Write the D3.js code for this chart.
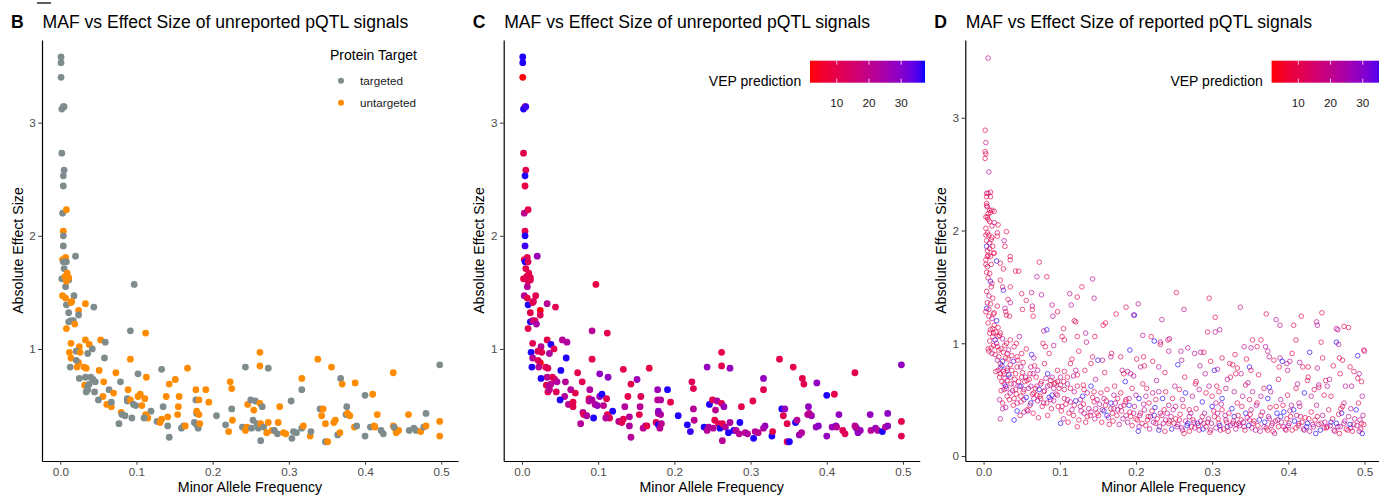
<!DOCTYPE html>
<html><head><meta charset="utf-8">
<script src="https://cdn.jsdelivr.net/npm/d3@7"></script>
<style>body{margin:0;background:#fff}svg{display:block}</style>
</head><body>
<svg id="chart" width="1379" height="498"></svg>
<script>
// ---------- data ----------
const xTicks = [0, 0.1, 0.2, 0.3, 0.4, 0.5];
const yTicksUnreported = [1, 2, 3];
const yTicksReported = [0, 1, 2, 3];
const targetCategories = ["targeted", "untargeted"];
const targetColours = ["#7F8C8D", "#FF8C00"];
const vepTicks = [10, 20, 30];
const vepLimits = [1.7, 37.4];

// unreported signals (panels B and C)
const bcMaf = [
0.001,0.001,0.001,0.004,0.002,0.005,0.002,0.005,0.004,0.004,
0.003,0.008,0.004,0.004,0.004,0.020,0.003,0.007,0.004,0.008,
0.005,0.002,0.006,0.011,0.007,0.011,0.008,0.009,0.003,0.007,
0.018,0.008,0.014,0.015,0.033,0.044,0.024,0.011,0.024,0.011,
0.014,0.017,0.019,0.008,0.097,0.092,0.112,0.014,0.033,0.038,
0.053,0.059,0.025,0.042,0.021,0.026,0.012,0.036,0.014,0.058,
0.092,0.024,0.021,0.013,0.022,0.031,0.034,0.051,0.073,0.102,
0.133,0.167,0.025,0.033,0.040,0.043,0.046,0.113,0.151,0.079,
0.057,0.032,0.036,0.038,0.143,0.034,0.036,0.045,0.064,0.070,
0.089,0.178,0.191,0.223,0.225,0.056,0.050,0.088,0.088,0.092,
0.102,0.105,0.111,0.139,0.156,0.178,0.182,0.195,0.061,0.067,
0.067,0.096,0.099,0.107,0.119,0.135,0.155,0.080,0.081,0.085,
0.077,0.094,0.112,0.115,0.110,0.127,0.133,0.131,0.141,0.154,
0.141,0.143,0.159,0.162,0.164,0.176,0.179,0.181,0.183,0.179,
0.182,0.179,0.205,0.217,0.221,0.225,0.226,0.243,0.239,0.243,
0.245,0.246,0.250,0.254,0.253,0.258,0.260,0.251,0.256,0.262,
0.265,0.262,0.262,0.273,0.263,0.263,0.267,0.271,0.273,0.278,
0.281,0.285,0.286,0.288,0.293,0.296,0.303,0.304,0.306,0.310,
0.317,0.319,0.317,0.317,0.328,0.329,0.338,0.341,0.345,0.343,
0.348,0.348,0.351,0.356,0.359,0.361,0.364,0.367,0.368,0.370,
0.375,0.376,0.380,0.377,0.387,0.386,0.389,0.400,0.400,0.407,
0.412,0.413,0.410,0.416,0.421,0.424,0.437,0.437,0.439,0.441,
0.444,0.438,0.457,0.458,0.464,0.467,0.473,0.477,0.480,0.480,
0.498,0.498,0.498];
const bcEffect = [
3.58,3.53,3.40,3.14,3.12,3.14,2.73,2.58,2.53,2.44,
2.20,2.23,2.04,2.00,1.91,1.82,1.79,1.81,1.77,1.77,
1.71,1.62,1.64,1.61,1.55,1.63,1.60,1.67,1.47,1.45,
1.47,1.39,1.41,1.42,1.40,1.37,1.34,1.32,1.30,1.24,
1.25,1.25,1.22,1.18,1.57,1.16,1.14,1.05,1.08,1.04,
1.08,1.06,1.02,1.00,0.98,0.97,0.97,0.96,0.92,0.92,
0.91,0.88,0.90,0.84,0.84,0.84,0.83,0.81,0.79,0.78,
0.82,0.83,0.74,0.75,0.75,0.73,0.71,0.75,0.73,0.71,
0.71,0.68,0.67,0.69,0.69,0.62,0.64,0.62,0.64,0.61,
0.64,0.64,0.64,0.71,0.65,0.58,0.55,0.56,0.54,0.55,
0.58,0.60,0.56,0.58,0.58,0.55,0.55,0.53,0.51,0.49,
0.53,0.51,0.50,0.50,0.45,0.49,0.49,0.44,0.42,0.41,
0.34,0.39,0.42,0.39,0.39,0.36,0.38,0.35,0.40,0.42,
0.32,0.22,0.30,0.32,0.32,0.35,0.33,0.30,0.34,0.43,
0.42,0.45,0.41,0.33,0.27,0.47,0.37,0.84,0.31,0.28,
0.31,0.51,0.55,0.46,0.37,0.34,0.30,0.30,0.54,0.52,
0.49,0.97,0.85,0.83,0.19,0.34,0.31,0.26,0.35,0.28,
0.28,0.25,0.35,0.49,0.26,0.25,0.54,0.21,0.27,0.26,
0.30,0.32,0.64,0.74,0.23,0.27,0.91,0.47,0.47,0.41,
0.34,0.18,0.18,0.84,0.35,0.37,0.24,0.26,0.74,0.69,
0.42,0.49,0.41,0.43,0.70,0.31,0.32,0.59,0.23,0.31,
0.32,0.31,0.60,0.42,0.28,0.25,0.79,0.32,0.30,0.26,
0.28,0.31,0.42,0.28,0.30,0.28,0.27,0.31,0.32,0.43,
0.86,0.36,0.23];
// 0 = targeted, 1 = untargeted
const bcTarget = [
0,0,0,0,0,0,0,0,0,0, 0,1,1,0,0,0,1,1,0,0, 0,0,1,0,0,1,1,1,1,1,
0,0,1,1,1,0,1,0,0,0, 0,0,1,1,0,0,1,1,1,1, 1,0,1,0,0,1,1,0,1,0,
1,1,0,0,1,1,1,1,1,0, 0,1,0,0,0,0,0,1,1,0, 1,1,0,0,1,0,0,0,0,1,
1,1,1,1,1,1,0,0,0,1, 1,1,1,1,1,0,1,1,1,1, 0,0,0,1,0,0,1,1,0,0,
0,0,1,1,0,0,1,1,1,1, 0,0,0,0,1,0,0,0,1,0, 1,1,0,0,1,0,1,0,0,1,
1,1,0,1,0,0,0,0,0,1, 0,1,1,0,0,1,0,1,1,1, 0,0,1,1,1,1,0,0,0,0,
0,1,0,1,1,0,1,0,1,1, 1,0,1,1,1,1,0,1,0,1, 0,0,1,1,1,1,0,0,0,0,
1,1,1,1,0,0,1,1,1,1, 1,0,1,0,0,0,1,0,1,0, 0,1,1];
const bcVep = [
37,37,2,9,37,36,10,11,37,9, 21,11,10,37,36,27,8,10,37,12,
10,9,11,13,22,10,12,10,23,9, 11,37,10,12,22,11,3,10,12,37,
21,13,24,10,9,22,10,11,10,37, 22,23,21,11,12,10,37,23,22,37,
10,3,12,37,21,10,12,37,10,28, 10,9,37,21,11,13,23,28,27,11,
22,10,27,21,10,11,20,12,22,10, 23,27,37,12,11,22,37,10,21,24,
28,37,11,10,12,22,23,10,21,11, 10,22,27,21,37,23,22,21,11,23,
22,37,10,12,22,21,10,11,22,10, 23,22,21,23,10,11,37,22,21,23,
22,28,37,37,36,22,21,28,37,22, 23,37,11,21,10,12,37,22,23,11,
27,10,11,28,22,10,21,37,23,37, 22,21,37,10,22,23,11,37,22,21,
23,27,11,28,37,10,10,37,28,11, 10,12,37,10,37,22,27,23,10,11,
22,28,27,21,28,27,29,37,28,27, 29,22,10,28,11,12,10,22,37,28,
27,21,28,22,27,23,37,21,28,29, 28,10,11];

// reported signals (panel D), part 1
const dMaf = [
0.006,0.002,0.003,0.002,0.003,0.002,0.007,0.004,0.006,0.009,
0.009,0.004,0.004,0.005,0.008,0.006,0.011,0.003,0.014,0.009,
0.005,0.011,0.014,0.019,0.030,0.027,0.028,0.018,0.018,0.005,
0.003,0.011,0.004,0.008,0.004,0.008,0.005,0.003,0.009,0.013,
0.014,0.017,0.022,0.026,0.035,0.035,0.004,0.010,0.005,0.042,
0.046,0.073,0.070,0.083,0.143,0.009,0.011,0.022,0.025,0.026,
0.035,0.050,0.056,0.063,0.076,0.113,0.123,0.129,0.253,0.296,
0.145,0.032,0.035,0.018,0.028,0.004,0.007,0.014,0.115,0.090,
0.064,0.064,0.065,0.051,0.029,0.030,0.034,0.187,0.203,0.337,
0.444,0.371,0.384,0.389,0.417,0.437,0.438,0.407,0.234,0.198,
0.197,0.083,0.079,0.119,0.121,0.091,0.097,0.105,0.134,0.146,
0.174,0.465,0.463,0.473,0.479,0.304,0.294,0.304,0.310,0.263,
0.209,0.220,0.224,0.244,0.242,0.232,0.232,0.160,0.157,0.135,
0.123,0.125,0.103,0.106,0.092,0.047,0.043,0.030,0.035,0.040,
0.012,0.013,0.022,0.019,0.015,0.010,0.011,0.018,0.020,0.031,
0.007,0.008,0.007,0.033,0.025,0.029,0.032,0.039,0.037,0.045,
0.056,0.050,0.044,0.063,0.066,0.078,0.081,0.086,0.080,0.049,
0.050,0.062,0.065,0.061,0.031,0.035,0.022,0.027,0.019,0.016,
0.084,0.090,0.097,0.101,0.106,0.110,0.121,0.123,0.133,0.141,
0.143,0.114,0.116,0.150,0.156,0.168,0.180,0.182,0.184,0.193,
0.189,0.192,0.201,0.210,0.206,0.211,0.230,0.243,0.259,0.255,
0.260,0.268,0.277,0.285,0.289,0.303,0.307,0.298,0.313,0.323,
0.327,0.330,0.342,0.351,0.353,0.359,0.364,0.349,0.351,0.331,
0.338,0.370,0.375,0.373,0.381,0.388,0.389,0.392,0.398,0.405,
0.410,0.415,0.419,0.426,0.428,0.438,0.445,0.449,0.443,0.463,
0.466,0.467,0.471,0.475,0.481,0.486,0.491,0.491,0.493,0.499,
0.500,0.497,
0.027,0.029,0.031,0.035,0.040,0.042,0.046,0.049,0.053,0.057,
0.062,0.066,0.070,0.073,0.075,0.079,0.084,0.088,0.090,0.093,
0.097,0.099,0.101,0.103,0.106,0.110,0.112,0.114,0.119,0.123,
0.127,0.130,0.132,0.136,0.141,0.145,0.147,0.151,0.156,0.160,
0.162,0.165,0.169,0.171,0.176,0.180,0.184,0.187,0.191,0.193,
0.197,0.202,0.204,0.206,0.211,0.215,0.219,0.224,0.226,0.230,
0.232,0.237,0.239,0.243,0.246,0.250,0.254,0.257,0.261,0.263,
0.268,0.270,0.273,0.276,0.281,0.283,0.287,0.289,0.294,0.298,
0.300,0.303,0.307,0.309,0.311,0.313,0.318,0.320,0.322,0.327,
0.329,0.332,0.335,0.338,0.342,0.344,0.349,0.351,0.354,0.357,
0.362,0.364,0.368,0.373,0.375,0.379,0.382,0.386,0.390,0.394,
0.397,0.401,0.403,0.407,0.410,0.414,0.416,0.421,0.424,0.427,
0.432,0.436,0.438,0.443,0.447,0.451,0.456,0.460,0.465,0.467,
0.470,0.473,0.478,0.482,0.486,0.489,0.493,0.496,0.497,0.494,
0.482,0.473,0.469,0.456,0.451,0.447,0.440,0.434,0.430,0.425,
0.421,0.414,0.410,0.404,0.399,0.394,0.390,0.384,0.377,0.373,
0.368,0.364,0.359,0.353,0.349,0.344,0.340,0.333,0.329,0.324,
0.318,0.313,0.309,0.305,0.300,0.296,0.292,0.287,0.283,0.278,
0.274,0.270,0.265,0.261,0.257,0.252,0.248,0.243,0.239,0.235,
0.230,0.226,0.222,0.217,0.213,0.209,0.204,0.200,0.195,0.191,
0.187,0.180,0.176,0.171,0.167,0.162,0.158,0.154,0.149,0.145,
0.141,0.136,0.132,0.127,0.123,0.119,0.114,0.110,0.106,0.101,
0.097,0.092,0.088,0.084,0.079,0.075,0.070,0.066,0.062,0.057,
0.053,0.049,0.044,0.040,0.035,0.031,0.027,0.022,0.025,0.022,
0.040,0.053];
const dEffect = [
3.53,2.89,2.78,2.70,2.68,2.64,2.52,2.33,2.33,2.34,
2.30,2.30,2.24,2.21,2.18,2.15,2.18,2.12,2.17,2.16,
2.12,2.04,2.07,2.05,1.99,1.91,1.86,1.98,1.95,1.98,
1.96,1.94,1.91,1.89,1.86,1.84,1.77,1.74,1.77,1.80,
1.80,1.73,1.71,1.66,1.77,1.74,1.63,1.70,1.68,1.64,
1.64,1.72,1.59,1.59,1.57,1.55,1.53,1.56,1.50,1.47,
1.50,1.44,1.38,1.45,1.43,1.44,1.41,1.50,1.45,1.40,
1.40,1.39,1.36,1.33,1.31,1.31,1.30,1.27,1.34,1.34,
1.33,1.30,1.24,1.30,1.28,1.25,1.24,1.32,1.35,1.32,
1.27,1.26,1.21,1.16,1.24,1.19,1.16,1.16,1.21,1.25,
1.25,1.12,1.11,1.20,1.19,1.24,1.28,1.13,1.09,1.06,
1.26,1.12,1.13,1.15,1.14,1.23,1.10,1.10,1.12,1.30,
1.07,1.06,1.02,1.04,1.03,0.99,1.01,1.18,1.16,1.01,
1.06,0.93,1.06,1.03,0.98,1.06,1.00,1.00,1.03,0.97,
1.13,1.09,1.09,1.06,1.03,0.96,0.91,0.97,0.94,0.91,
1.24,1.09,0.93,0.94,0.84,0.87,0.86,0.84,0.89,0.85,
0.95,0.91,0.79,0.90,0.87,1.00,0.97,0.91,0.82,0.79,
0.70,0.79,0.73,0.73,0.76,0.81,0.78,0.73,0.76,0.75,
0.73,0.70,0.76,0.70,0.75,0.70,0.76,0.72,0.76,0.82,
0.88,0.82,0.86,0.85,0.85,0.91,0.88,0.76,0.73,0.73,
0.75,0.94,0.86,0.88,0.79,0.80,0.79,0.93,0.93,0.81,
0.85,0.96,0.91,0.92,0.92,0.76,0.77,0.84,0.87,0.82,
0.81,0.90,0.97,0.96,1.03,0.97,1.03,0.79,0.76,0.73,
0.73,0.97,0.88,0.93,0.85,0.79,0.87,0.84,0.82,0.91,
1.03,0.83,0.79,0.79,0.92,0.78,0.87,0.67,1.01,1.01,
0.99,0.87,0.85,0.62,0.79,0.75,0.69,0.89,0.73,0.94,
0.93,0.53,
0.64,0.62,0.67,0.70,0.64,0.59,0.66,0.62,0.59,0.67,
0.62,0.56,0.62,0.59,0.51,0.47,0.36,0.50,0.54,0.64,
0.54,0.60,0.29,0.44,0.51,0.50,0.38,0.48,0.45,0.26,
0.44,0.53,0.38,0.35,0.39,0.48,0.42,0.36,0.41,0.45,
0.36,0.28,0.38,0.42,0.41,0.56,0.45,0.36,0.45,0.35,
0.38,0.32,0.26,0.38,0.41,0.32,0.35,0.36,0.29,0.23,
0.38,0.41,0.32,0.29,0.35,0.29,0.26,0.32,0.23,0.20,
0.29,0.35,0.26,0.30,0.29,0.23,0.35,0.29,0.30,0.23,
0.44,0.35,0.38,0.29,0.23,0.41,0.32,0.26,0.38,0.29,
0.35,0.28,0.29,0.32,0.26,0.38,0.32,0.41,0.29,0.23,
0.32,0.36,0.26,0.23,0.33,0.29,0.20,0.32,0.35,0.26,
0.23,0.29,0.35,0.41,0.25,0.29,0.35,0.23,0.26,0.33,
0.28,0.20,0.35,0.29,0.25,0.26,0.30,0.23,0.26,0.20,
0.38,0.29,0.23,0.25,0.28,0.41,0.22,0.29,0.20,0.32,
0.42,0.47,0.42,0.53,0.62,0.54,0.63,0.59,0.53,0.67,
0.56,0.47,0.60,0.45,0.54,0.39,0.50,0.44,0.57,0.51,
0.60,0.53,0.47,0.57,0.50,0.63,0.53,0.47,0.57,0.70,
0.60,0.51,0.57,0.47,0.53,0.62,0.56,0.48,0.59,0.64,
0.53,0.41,0.56,0.50,0.59,0.44,0.51,0.45,0.57,0.51,
0.57,0.50,0.56,0.47,0.53,0.64,0.51,0.54,0.60,0.51,
0.50,0.44,0.51,0.54,0.47,0.59,0.51,0.56,0.50,0.57,
0.62,0.56,0.59,0.50,0.62,0.57,0.60,0.64,0.59,0.63,
0.66,0.60,0.67,0.62,0.57,0.64,0.54,0.51,0.47,0.41,
0.50,0.53,0.47,0.51,0.56,0.53,0.59,0.73,0.42,0.33,
0.32,0.39];
const dVep = [
21,10,20,9,11,10,22,10,21,9, 11,10,12,20,10,9,11,10,12,10,
11,10,20,9,11,22,10,12,10,9, 10,11,10,21,36,10,11,9,10,12,
10,37,10,11,10,12,10,9,11,10, 12,10,22,11,21,37,10,11,10,36,
12,10,11,20,22,21,10,12,10,11, 22,10,20,11,21,37,10,12,22,20,
21,10,11,10,12,10,11,10,22,21, 10,11,22,20,10,21,23,10,22,37,
24,37,21,10,11,22,10,12,21,10, 11,22,20,10,12,10,11,21,22,20,
21,10,37,22,11,10,21,10,12,20, 10,11,10,12,21,22,10,11,10,12,
10,11,10,9,37,10,20,11,10,12, 10,11,10,21,37,10,11,36,10,12,
10,11,10,37,22,10,11,10,12,21, 10,20,22,10,11,10,21,10,12,10,
37,22,10,21,11,10,22,10,11,10, 12,10,11,37,22,10,11,21,10,22,
20,37,10,11,21,10,22,21,20,37, 22,21,22,20,10,37,22,10,11,10,
12,10,21,22,10,11,10,37,10,11, 21,22,20,21,10,11,22,37,21,10,
11,22,10,11,37,21,10,11,10,37, 22,10,11,21,10,11,10,37,22,10,
21,22,
21,37,10,11,22,10,12,37,21,10, 22,11,20,37,10,21,10,22,37,11,
20,10,37,21,10,22,11,20,10,12, 21,37,22,10,21,11,20,10,22,10,
37,11,10,21,22,10,12,20,37,10, 21,11,22,10,21,10,20,37,11,37,
22,10,21,12,20,10,22,11,21,10, 37,22,10,20,37,21,11,22,10,20,
37,12,21,10,22,11,20,37,10,21, 37,11,22,10,20,37,12,21,10,22,
37,11,21,10,20,12,22,10,37,21, 11,22,10,37,10,20,12,21,37,10,
22,37,11,21,10,20,37,12,22,10, 37,21,10,22,11,37,20,10,37,21,
22,20,10,11,21,10,22,12,20,10, 37,21,11,22,10,37,20,10,21,37,
12,22,10,20,11,10,21,10,22,11, 20,37,10,21,12,22,10,37,20,11,
21,10,37,22,10,20,12,21,10,37, 22,11,20,10,21,10,37,22,11,20,
10,21,12,22,37,10,20,11,21,10, 37,22,10,20,12,21,10,22,11,20,
10,21,10,22,12,20,10,21,37,10, 22,11,20,10,21,10,22,11,20,21,
37,21];

// reported signals (panel D), part 2: low-MAF column, 0.02-0.1 cluster, dense band, mid band
const dMafMore = [
0.004,0.006,0.008,0.003,0.007,0.010,0.005,0.012,0.006,0.003,
0.008,0.006,0.010,0.004,0.007,0.012,0.005,0.009,0.003,0.011,
0.006,0.014,0.009,0.016,0.012,0.008,0.017,0.013,0.006,0.015,
0.020,0.018,0.022,0.024,0.017,0.013,0.019,0.021,0.025,0.028,
0.023,0.026,
0.021,0.024,0.028,0.030,0.033,0.036,0.038,0.041,0.043,0.047,
0.049,0.052,0.054,0.056,0.059,0.061,0.064,0.068,0.071,0.074,
0.077,0.080,0.083,0.086,0.089,0.092,0.095,0.098,
0.021,0.023,0.025,0.029,0.034,0.039,0.044,0.048,0.058,0.065,0.072,
0.026,0.031,0.037,0.042,0.051,0.055,0.060,0.069,0.076,0.082,0.087,0.094,
0.067,0.071,0.044,0.052,
0.102,0.105,0.108,0.111,0.116,0.118,0.121,0.125,0.128,0.131,
0.134,0.138,0.140,0.143,0.146,0.149,0.152,0.155,0.158,0.161,
0.164,0.167,0.170,0.173,0.175,0.178,0.181,0.183,0.186,0.189,
0.192,0.195,0.198,0.200,0.203,0.205,0.208,0.210,0.213,0.216,
0.218,0.221,0.223,0.225,0.228,0.231,0.234,0.236,0.238,0.241,
0.244,0.247,0.249,0.252,0.255,0.258,0.260,0.262,0.265,0.267,
0.270,0.272,0.275,0.277,0.279,0.282,0.285,0.288,0.290,0.292,
0.295,0.297,0.299,0.302,0.305,0.308,0.310,0.312,0.315,0.317,
0.319,0.321,0.324,0.326,0.328,0.331,0.334,0.336,0.339,0.341,
0.343,0.346,0.348,0.350,0.352,0.355,0.358,0.360,0.363,0.366,
0.369,0.371,0.374,0.376,0.378,0.380,0.383,0.385,0.387,0.391,
0.393,0.396,0.398,0.400,0.402,0.405,0.408,0.411,0.413,0.415,
0.418,0.420,0.422,0.425,0.428,0.430,0.433,0.435,0.437,0.440,
0.442,0.445,0.448,0.450,0.453,0.455,0.458,0.461,0.463,0.466,
0.468,0.471,0.474,0.476,0.479,0.481,0.484,0.487,0.490,0.492,
0.495,0.498,0.499,
0.105,0.118,0.131,0.147,0.159,0.172,0.186,0.197,0.214,0.227,
0.238,0.251,0.264,0.279,0.291,0.306,0.320,0.333,0.347,0.361,
0.375,0.387,0.399,0.412,0.426,0.440,0.454,0.468,0.483,0.496,
0.167,0.222,0.284,0.345,0.402,0.459];
const dEffectMore = [
2.22,2.10,2.08,2.02,1.96,1.92,1.82,1.86,1.78,1.70,
1.62,1.58,1.50,1.46,1.42,1.40,1.36,1.35,1.28,1.22,
1.18,1.16,1.12,1.10,1.06,1.02,1.00,0.98,0.95,0.90,
0.88,0.85,0.82,0.80,1.20,1.26,1.14,1.07,1.04,0.98,
0.95,0.92,
0.70,0.66,0.69,0.60,0.72,0.64,0.58,0.68,0.55,0.62,
0.48,0.57,0.66,0.52,0.60,0.45,0.55,0.60,0.49,0.53,
0.44,0.58,0.47,0.52,0.42,0.49,0.55,0.44,
0.50,0.58,0.47,0.43,0.50,0.45,0.40,0.36,0.40,0.38,0.34,
0.75,0.78,0.76,0.73,0.74,0.70,0.68,0.70,0.66,0.69,0.63,0.65,
0.80,0.76,0.88,0.83,
0.40,0.33,0.46,0.30,0.41,0.36,0.49,0.32,0.40,0.46,
0.30,0.42,0.36,0.52,0.33,0.38,0.46,0.30,0.40,0.49,
0.34,0.42,0.31,0.47,0.36,0.28,0.40,0.33,0.48,0.30,
0.39,0.27,0.44,0.33,0.22,0.36,0.29,0.46,0.27,0.35,
0.24,0.40,0.30,0.43,0.33,0.26,0.36,0.29,0.22,0.38,
0.31,0.24,0.41,0.33,0.28,0.37,0.25,0.44,0.31,0.27,
0.22,0.38,0.32,0.25,0.42,0.27,0.31,0.24,0.38,0.26,
0.33,0.21,0.29,0.40,0.25,0.33,0.27,0.46,0.24,0.36,
0.30,0.22,0.27,0.42,0.31,0.24,0.36,0.27,0.44,0.30,
0.23,0.34,0.27,0.37,0.25,0.31,0.45,0.27,0.22,0.39,
0.30,0.25,0.35,0.43,0.27,0.22,0.31,0.38,0.26,0.30,
0.45,0.24,0.33,0.27,0.40,0.23,0.31,0.36,0.27,0.44,
0.30,0.24,0.34,0.29,0.22,0.39,0.26,0.32,0.45,0.28,
0.23,0.36,0.30,0.25,0.41,0.27,0.33,0.22,0.29,0.37,
0.26,0.44,0.31,0.24,0.35,0.28,0.22,0.33,0.27,0.47,
0.24,0.36,0.28,
0.66,0.71,0.63,0.68,0.74,0.62,0.66,0.71,0.60,0.67,
0.74,0.62,0.70,0.66,0.73,0.62,0.68,0.78,0.65,0.72,
0.61,0.68,0.76,0.64,0.70,0.61,0.68,0.73,0.62,0.66,
0.88,0.84,0.80,0.86,0.84,0.80];
const dVepMore = [
10,11,9,10,12,10,11,10,9,10, 12,10,11,10,21,10,11,12,10,21,
10,11,10,12,10,11,20,10,10,11, 10,22,10,37,37,10,11,10,22,10,
12,10,
10,11,22,10,37,10,21,12,10,22, 10,11,10,37,21,10,12,10,22,10,
11,20,10,37,10,21,11,10,
20,10,10,22,11,10,37,10,21,10,11,
10,21,10,11,10,22,10,11,10,21,10,12,
10,22,10,11,
10,21,10,11,22,10,37,10,21,10, 12,20,10,11,22,10,21,10,37,10,
22,11,10,21,10,20,12,22,10,21, 10,11,22,10,37,21,10,22,11,10,
21,10,22,37,10,20,11,22,10,21, 10,37,22,10,21,11,22,10,20,37,
10,21,10,22,11,10,21,37,22,10, 21,10,22,11,20,10,37,21,10,22,
11,10,21,37,10,22,10,20,11,21, 10,22,37,10,21,11,22,10,20,21,
37,10,22,11,21,10,22,37,10,21, 11,22,10,20,21,10,37,22,10,21,
11,22,10,37,21,10,22,11,20,10, 37,21,22,10,11,21,10,22,37,10,
21,11,22,10,20,37,10,21,22,10, 11,21,10,
10,21,10,22,11,10,37,21,10,22, 10,21,11,10,22,10,21,10,22,11,
37,10,21,22,10,11,21,10,22,10, 21,10,22,10,21,10];

// ---------- drawing ----------
const FONT = "'Liberation Sans', Arial, Helvetica, sans-serif";
const svg = d3.select("#chart").style("font-family", FONT);

const colourVep = d3.scaleLinear().domain(vepLimits).range(["#FF0000", "#0000FF"])
  .interpolate(d3.interpolateLab).clamp(true);
const colourTarget = d3.scaleOrdinal().domain([0, 1]).range(targetColours);

const bcData = bcMaf.map((m, i) => ({maf: m, eff: bcEffect[i], tgt: bcTarget[i], vep: bcVep[i]}));
const dData = dMaf.map((m, i) => ({maf: m, eff: dEffect[i], vep: dVep[i]}))
  .concat(dMafMore.map((m, i) => ({maf: m, eff: dEffectMore[i], vep: dVepMore[i]})))
  .filter(d => d.eff != null && d.vep != null);

const panels = [
  {tag: "B", title: "MAF vs Effect Size of unreported pQTL signals", ox: 0,
   yDomain: [0.01, 3.73], yTicks: yTicksUnreported, kind: "target", data: bcData},
  {tag: "C", title: "MAF vs Effect Size of unreported pQTL signals", ox: 461.7,
   yDomain: [0.01, 3.73], yTicks: yTicksUnreported, kind: "vep", data: bcData},
  {tag: "D", title: "MAF vs Effect Size of reported pQTL signals", ox: 923.3,
   yDomain: [-0.044, 3.69], yTicks: yTicksReported, kind: "vepOpen", data: dData}
];

const L = 42, R = 458, T = 40, B = 461;

panels.forEach(p => {
  const g = svg.append("g").attr("transform", `translate(${p.ox},0)`);
  const x = d3.scaleLinear().domain([-0.024, 0.522]).range([L, R]);
  const y = d3.scaleLinear().domain(p.yDomain).range([B, T]);

  const pts = g.append("g");
  if (p.kind === "target") {
    pts.selectAll("circle").data(p.data).join("circle")
      .attr("cx", d => x(d.maf)).attr("cy", d => y(d.eff)).attr("r", 3.4)
      .attr("fill", d => colourTarget(d.tgt));
  } else if (p.kind === "vep") {
    pts.selectAll("circle").data(p.data).join("circle")
      .attr("cx", d => x(d.maf)).attr("cy", d => y(d.eff)).attr("r", 3.4)
      .attr("fill", d => colourVep(d.vep));
  } else {
    pts.selectAll("circle").data(p.data).join("circle")
      .attr("cx", d => x(d.maf)).attr("cy", d => y(d.eff)).attr("r", 2.3)
      .attr("fill", "none").attr("stroke-width", 1).attr("stroke-opacity", 0.65)
      .attr("stroke", d => colourVep(d.vep));
  }

  const xa = g.append("g").attr("transform", `translate(0,${B})`)
    .call(d3.axisBottom(x).tickValues(xTicks).tickFormat(d3.format(".1f"))
      .tickSize(3.7).tickPadding(2.5).tickSizeOuter(0));
  const ya = g.append("g").attr("transform", `translate(${L},0)`)
    .call(d3.axisLeft(y).tickValues(p.yTicks).tickFormat(d3.format("d"))
      .tickSize(3.7).tickPadding(2.5).tickSizeOuter(0));
  [xa, ya].forEach(a => {
    a.select(".domain").attr("stroke", "#000").attr("stroke-width", 1.2);
    a.selectAll(".tick line").attr("stroke", "#333");
    a.selectAll(".tick text").attr("fill", "#4D4D4D").style("font-size", "11.7px")
      .style("font-family", FONT);
  });

  g.append("text").attr("x", 11).attr("y", 28).text(p.tag)
    .style("font-size", "17.6px").style("font-weight", "bold").attr("fill", "#000");
  g.append("text").attr("x", 42.5).attr("y", 28).text(p.title)
    .style("font-size", "17.6px").attr("fill", "#000");
  g.append("text").attr("x", (L + R) / 2).attr("y", 492).attr("text-anchor", "middle")
    .text("Minor Allele Frequency").style("font-size", "14.2px").attr("fill", "#000");
  g.append("text").attr("transform", `translate(17.5,${(T + B) / 2}) rotate(-90)`)
    .attr("text-anchor", "middle").attr("dy", "0.36em")
    .text("Absolute Effect Size").style("font-size", "14.2px").attr("fill", "#000");

  if (p.kind === "target") {
    const lg = g.append("g");
    lg.append("text").attr("x", 330).attr("y", 60).text("Protein Target")
      .style("font-size", "14px").attr("fill", "#000");
    targetCategories.forEach((c, i) => {
      lg.append("circle").attr("cx", 341).attr("cy", 80.7 + i * 22).attr("r", 3)
        .attr("fill", targetColours[i]);
      lg.append("text").attr("x", 360).attr("y", 80.7 + i * 22).attr("dy", "0.35em")
        .text(c).style("font-size", "11.7px").attr("fill", "#1A1A1A");
    });
  } else {
    const lg = g.append("g");
    const barL = 348.3, barR = 463.3, barT = 60.7, barB = 82.7;
    const bx = d3.scaleLinear().domain(vepLimits).range([barL, barR]);
    const gid = "grad" + p.tag;
    const grad = svg.append("defs").append("linearGradient").attr("id", gid)
      .attr("x1", "0%").attr("x2", "100%").attr("y1", "0%").attr("y2", "0%");
    d3.range(0, 1.0001, 0.05).forEach(t => {
      grad.append("stop").attr("offset", (t * 100) + "%")
        .attr("stop-color", colourVep(vepLimits[0] + t * (vepLimits[1] - vepLimits[0])));
    });
    lg.append("rect").attr("x", barL).attr("y", barT).attr("width", barR - barL)
      .attr("height", barB - barT).attr("fill", `url(#${gid})`);
    vepTicks.forEach(v => {
      lg.append("line").attr("x1", bx(v)).attr("x2", bx(v)).attr("y1", barT).attr("y2", barT + 4)
        .attr("stroke", "#fff").attr("stroke-width", 0.8);
      lg.append("line").attr("x1", bx(v)).attr("x2", bx(v)).attr("y1", barB - 4).attr("y2", barB)
        .attr("stroke", "#fff").attr("stroke-width", 0.8);
      lg.append("text").attr("x", bx(v)).attr("y", 106.5).attr("text-anchor", "middle")
        .text(v).style("font-size", "11.7px").attr("fill", "#1A1A1A");
    });
    lg.append("text").attr("x", 339.5).attr("y", 86).attr("text-anchor", "end")
      .text("VEP prediction").style("font-size", "14px").attr("fill", "#000");
  }
});

// small stray mark at top-left in the original
svg.append("line").attr("x1", 37).attr("x2", 51).attr("y1", 3).attr("y2", 3)
  .attr("stroke", "#333").attr("stroke-width", 1.6);
</script>
</body></html>
